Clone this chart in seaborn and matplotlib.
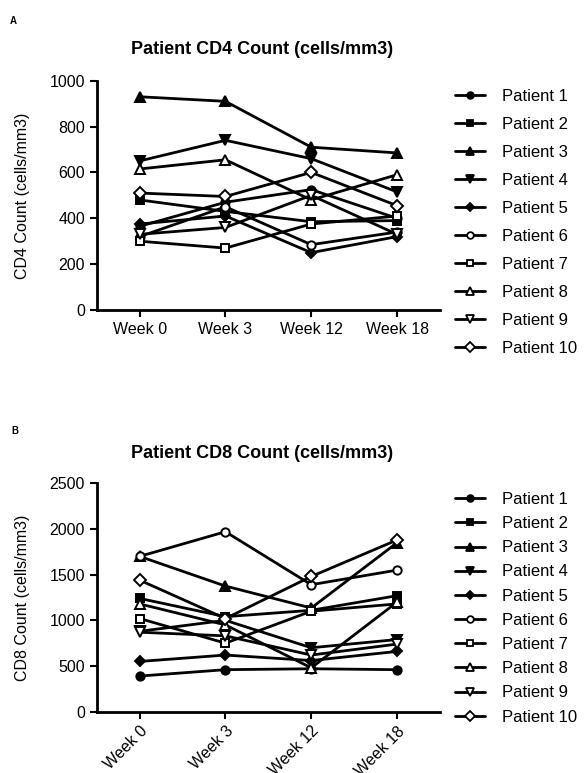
import numpy as np
import pandas as pd
import matplotlib
matplotlib.use("Agg")
import matplotlib.pyplot as plt
import seaborn as sns
from matplotlib.lines import Line2D

sns.set_theme(style="ticks")
plt.rcParams['font.family'] = ['Liberation Sans', 'DejaVu Sans']
plt.rcParams['text.color'] = 'black'
plt.rcParams['axes.labelcolor'] = 'black'
plt.rcParams['xtick.color'] = 'black'
plt.rcParams['ytick.color'] = 'black'

weeks = ["Week 0", "Week 3", "Week 12", "Week 18"]
patients = [f"Patient {i}" for i in range(1, 11)]

cd4_p1 = [365, 470, 525, 400]
cd4_p2 = [480, 430, 385, 390]
cd4_p3 = [930, 910, 710, 685]
cd4_p4 = [650, 740, 660, 515]
cd4_p5 = [375, 410, 250, 320]
cd4_p6 = [320, 450, 285, 340]
cd4_p7 = [300, 270, 375, 410]
cd4_p8 = [615, 655, 480, 590]
cd4_p9 = [330, 360, 500, 330]
cd4_p10 = [510, 495, 600, 455]

cd8_p1 = [390, 460, 470, 460]
cd8_p2 = [1240, 1040, 1110, 1270]
cd8_p3 = [1700, 1375, 1135, 1850]
cd8_p4 = [880, 1000, 700, 790]
cd8_p5 = [550, 620, 560, 660]
cd8_p6 = [1700, 1970, 1390, 1550]
cd8_p7 = [1020, 750, 1100, 1180]
cd8_p8 = [1180, 950, 480, 1200]
cd8_p9 = [870, 830, 620, 740]
cd8_p10 = [1440, 1020, 1480, 1880]

cd4 = [cd4_p1, cd4_p2, cd4_p3, cd4_p4, cd4_p5, cd4_p6, cd4_p7, cd4_p8, cd4_p9, cd4_p10]
cd8 = [cd8_p1, cd8_p2, cd8_p3, cd8_p4, cd8_p5, cd8_p6, cd8_p7, cd8_p8, cd8_p9, cd8_p10]

markers = ['o', 's', '^', 'v', 'D', 'o', 's', '^', 'v', 'D']
filled = [True] * 5 + [False] * 5
msizes = [6, 6, 6.5, 6.5, 5.5, 6, 6, 6.5, 6.5, 6]

W, H = 585, 773
fig = plt.figure(figsize=(W / 100, H / 100), dpi=100)


def fx(px):
    return px / W


def fy(py):
    return 1 - py / H


def make_panel(top_px, bottom_px, data, ymax, yticks, title, ylabel, title_y, rot):
    ax = fig.add_axes([fx(96.7), fy(bottom_px), fx(440 - 96.7), (bottom_px - top_px) / H])
    xpos = np.arange(len(weeks))
    for i, p in enumerate(patients):
        df = pd.DataFrame({"x": xpos, "y": data[i]})
        sns.lineplot(data=df, x="x", y="y", ax=ax, color="black", linewidth=2.0,
                     marker=markers[i], markersize=msizes[i],
                     markerfacecolor="black" if filled[i] else "white",
                     markeredgecolor="black", markeredgewidth=1.4, legend=False)
    ax.set_xlim(-0.5, 3.5)
    ax.set_ylim(0, ymax)
    ax.set_yticks(yticks)
    ax.set_xticks(xpos)
    if rot:
        ax.set_xticklabels(weeks, rotation=45, ha="right", rotation_mode="anchor")
    else:
        ax.set_xticklabels(weeks)
    ax.set_xlabel("")
    ax.set_ylabel(ylabel, fontsize=11.5, labelpad=14)
    ax.tick_params(axis="both", labelsize=11.5, width=1.5, length=5, color="black")
    for s in ["left", "bottom"]:
        ax.spines[s].set_linewidth(2.0)
        ax.spines[s].set_color("black")
    sns.despine(ax=ax)
    fig.text(fx(262), fy(title_y), title, ha="center", va="center",
             fontsize=13, fontweight="bold")
    return ax


ax1 = make_panel(80.7, 310, cd4, 1000, [0, 200, 400, 600, 800, 1000],
                 "Patient CD4 Count (cells/mm3)", "CD4 Count (cells/mm3)", 49, False)
ax2 = make_panel(483.3, 711.7, cd8, 2500, [0, 500, 1000, 1500, 2000, 2500],
                 "Patient CD8 Count (cells/mm3)", "CD8 Count (cells/mm3)", 453, True)

fig.text(fx(13), fy(21), "A", ha="center", va="center", fontsize=7, fontweight="bold")
fig.text(fx(15), fy(431), "B", ha="center", va="center", fontsize=7, fontweight="bold")

handles = [Line2D([0], [0], color="black", linewidth=2.0, marker=markers[i],
                  markersize=msizes[i] * 0.8,
                  markerfacecolor="black" if filled[i] else "white",
                  markeredgecolor="black", markeredgewidth=1.3) for i in range(10)]

fig.legend(handles, patients, loc="upper left", bbox_to_anchor=(fx(455), fy(89)),
           frameon=False, fontsize=12, handlelength=1.8, handletextpad=1.0,
           labelspacing=0.78, borderpad=0, borderaxespad=0)
fig.legend(handles, patients, loc="upper left", bbox_to_anchor=(fx(455), fy(492)),
           frameon=False, fontsize=12, handlelength=1.8, handletextpad=1.0,
           labelspacing=0.55, borderpad=0, borderaxespad=0)

fig.savefig("out.png", dpi=100)
